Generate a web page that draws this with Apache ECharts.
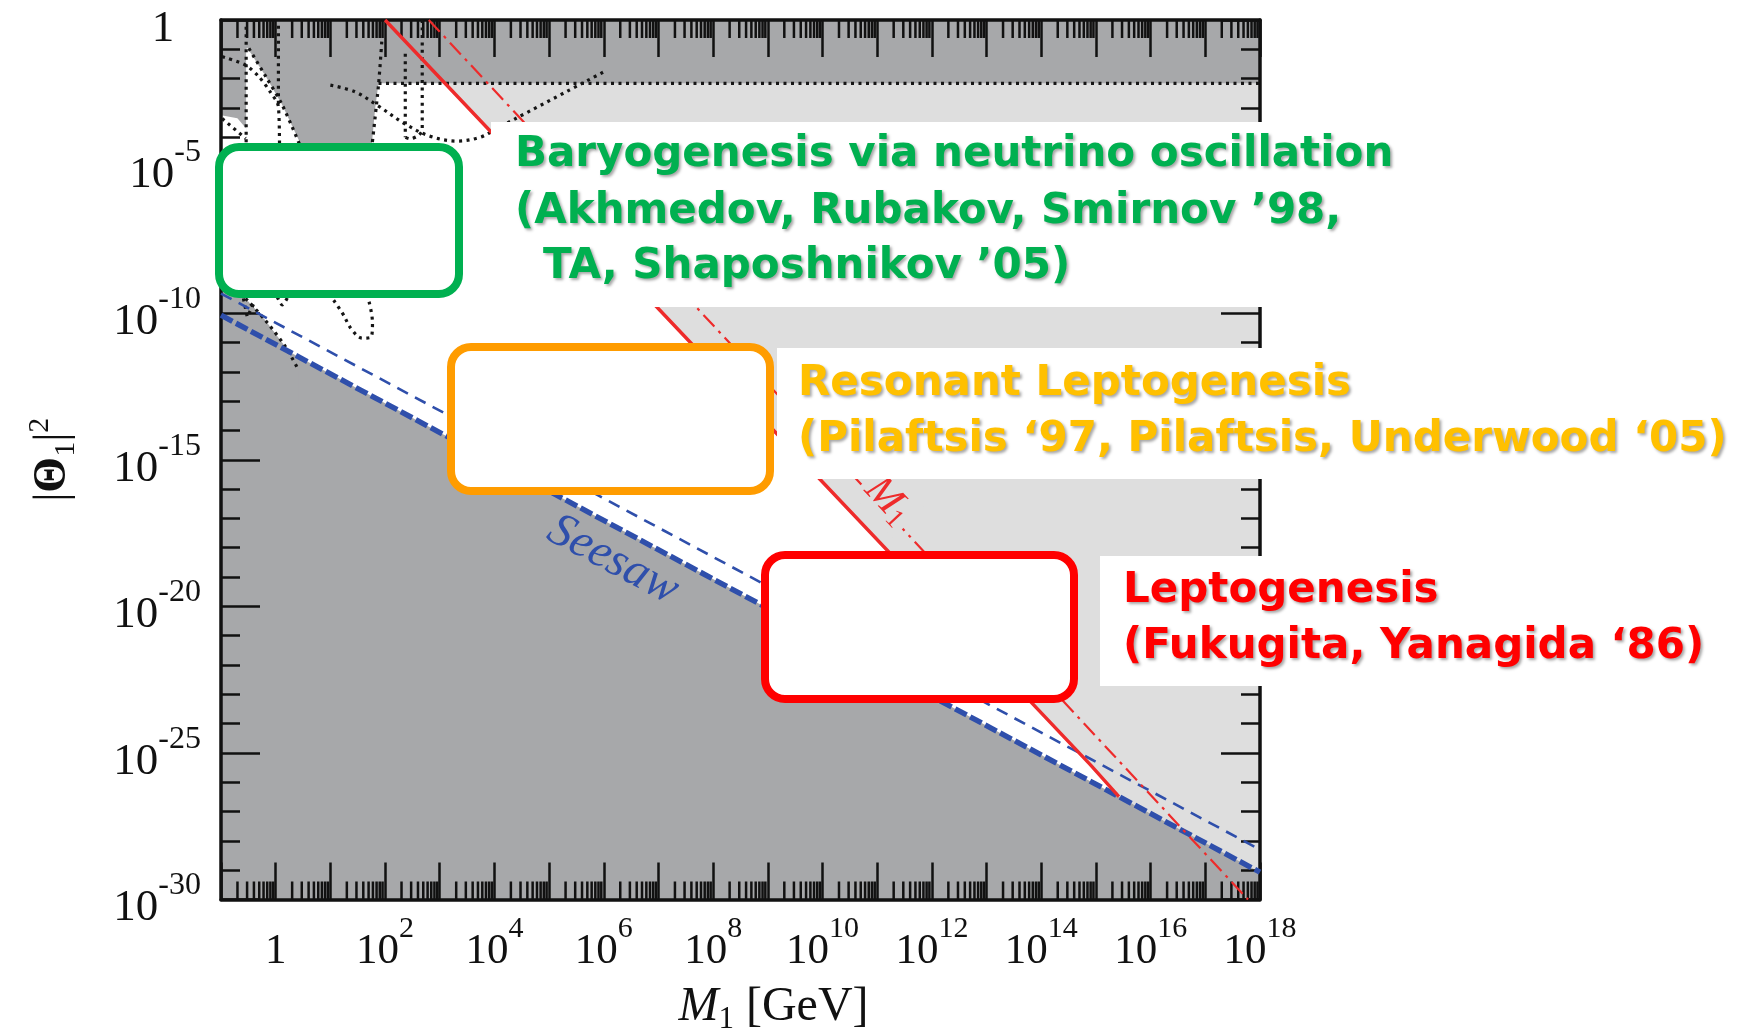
<!DOCTYPE html>
<html>
<head>
<meta charset="utf-8">
<script src="https://cdn.jsdelivr.net/npm/echarts@6/dist/echarts.min.js"></script>
<style>
  html, body { margin: 0; padding: 0; background: #ffffff; }
  #chart { width: 1756px; height: 1030px; }
</style>
</head>
<body>
<div id="chart"></div>
<script>
// Every value below is a base-10 exponent: x = log10(M1 / GeV), y = log10(|Θ1|^2).
const massRange = [-1, 18];
const mixingRange = [-30, 0];
const massLabelPowers = [0, 2, 4, 6, 8, 10, 12, 14, 16, 18];
const mixingLabelPowers = [0, -5, -10, -15, -20, -25, -30];

// Seesaw lines (lower: solar scale, upper: atmospheric scale)
const seesawSolM = [-1, 18];
const seesawSolTheta = [-10.07, -29.07];
const seesawAtmM = [-1, 18];
const seesawAtmTheta = [-9.33, -28.3];

// Leptogenesis boundary (solid red) and the dash-dot line
const leptoM = [2.0, 6.0, 10.0, 14.9, 15.42];
const leptoTheta = [0, -7.88, -15.76, -25.41, -26.49];
const dashDotM = [2.8, 17.78];
const dashDotTheta = [0, -30];

// Upper limit on the mixing
const upperLimitM = [1.88, 18];
const upperLimitTheta = [-2.16, -2.16];

// Low-mass excluded regions (dark gray) and allowed wedges (white)
const topBandM = [-1, 18, 18, -1];
const topBandTheta = [0, 0, -2.16, -2.16];
const lowMassM = [-1, 1.9, 1.88, 1.82, 1.76, 1.72, -1];
const lowMassTheta = [-1.9, -1.9, -2.16, -3.0, -4.2, -5.5, -5.5];
const wedgeM = [-0.52, -0.18, 0.12, 0.45, 0.6, -0.54, -0.54];
const wedgeTheta = [-0.95, -1.93, -2.9, -4.2, -5.5, -5.5, -1.0];
const cornerM = [-1, -0.7, -0.54, -0.54, -1];
const cornerTheta = [-3.25, -3.35, -3.7, -5.5, -5.5];
const bbnM = [-1, -0.55, -0.55, -0.19, 0.18, 0.42, 0.42, -1];
const bbnTheta = [-8.5, -8.5, -9.5, -10.24, -11.15, -11.95, -13, -13];

// Dotted experimental contours
const dotA = { m: [-0.54, -0.54], t: [-0.23, -4.3] };
const dotB = { m: [-0.49, -0.18, 0.12, 0.45], t: [-0.97, -1.93, -2.9, -4.3] };
const dotC = { m: [-0.98, -0.55, -0.31, -0.10, 0.05, 0.07], t: [-1.25, -1.54, -1.93, -2.45, -2.96, -4.3] };
const dotD = { m: [0.05, 0.05], t: [-0.2, -2.9] };
const dotE = { m: [1.94, 1.88, 1.76], t: [-0.74, -2.22, -4.3] };
const dotF = { m: [2.37, 2.37], t: [-1.15, -4.0] };
const dotH = { m: [2.68, 2.68, 2.6, 2.45, 2.37], t: [0, -3.75, -3.95, -4.05, -4.0] };
const dotG = { m: [1.0, 1.45, 1.85, 2.37, 2.83, 3.32, 3.74, 4.0, 4.35, 6.0], t: [-2.22, -2.45, -2.9, -3.55, -3.97, -4.13, -4.0, -3.75, -3.4, -1.77] };
const dotCorner = { m: [-0.98, -0.55], t: [-3.36, -4.04] };
const dotBBN = { m: [-0.55, -0.19, 0.18, 0.42], t: [-9.5, -10.24, -11.15, -11.95] };
const dotV = { m: [-0.59, -0.52, -0.37], t: [-9.5, -10.13, -9.56] };
const dotSmall = { m: [0.03, 0.12, 0.22], t: [-9.45, -9.72, -9.45] };
const dotU = { m: [1.06, 1.22, 1.4, 1.59, 1.74, 1.77, 1.70], t: [-9.56, -10.0, -10.58, -10.85, -10.82, -10.34, -9.56] };

// Line labels
const seesawLabelAt = [6.17, -18.43];
const m1LabelAt = [11.2, -16.4];

const DARK = '#a7a8aa';
const LIGHT = '#dedede';
const BLUE = '#2f4fab';
const RED = '#ee2b2b';
const SERIF = '"Liberation Serif", "Times New Roman", serif';
const SANS = '"DejaVu Sans", Verdana, sans-serif';

function pairs(xs, ys) { return xs.map((x, i) => [x, ys[i]]); }

function areaSeries(xs, ys, color, z) {
  return {
    type: 'custom', z: z, silent: true, animation: false, clip: true,
    data: pairs(xs, ys),
    renderItem: function (params, api) {
      if (params.dataIndex !== 0) return null;
      const pts = xs.map((x, i) => api.coord([x, ys[i]]));
      return { type: 'polygon', shape: { points: pts }, style: { fill: color } };
    }
  };
}

function lineSeries(xs, ys, lineStyle, z, smooth) {
  return {
    type: 'line', z: z, silent: true, animation: false, clip: true,
    data: pairs(xs, ys), symbol: 'none', showSymbol: false,
    smooth: smooth || false, lineStyle: lineStyle
  };
}

const dottedStyle = { color: '#151515', width: 3.2, type: [3, 4.5], cap: 'butt' };
function dotted(d, smooth) { return lineSeries(d.m, d.t, dottedStyle, 7, smooth); }

// log-spaced minor ticks (2..9 within every decade)
const minorTicks = [];
for (let n = massRange[0]; n < massRange[1]; n++) {
  for (let k = 2; k <= 9; k++) minorTicks.push([n + Math.log10(k), 0]);
}

function tickRich(main, sup) {
  return {
    b: { fontFamily: SERIF, fontSize: main, color: '#111', lineHeight: main + 16, verticalAlign: 'bottom' },
    u: { fontFamily: SERIF, fontSize: sup, color: '#111', lineHeight: sup - 4, verticalAlign: 'top' },
    h: { fontFamily: SERIF, fontSize: sup, color: 'rgba(0,0,0,0)', lineHeight: sup - 4, verticalAlign: 'top' }
  };
}

function xAxisDef(position, showLabels) {
  return {
    type: 'value', position: position, min: massRange[0], max: massRange[1], interval: 1, z: 5,
    axisLine: { show: true, onZero: false, lineStyle: { color: '#111', width: 3.5 } },
    axisTick: { show: true, inside: true, length: 37, lineStyle: { color: '#111', width: 2.5 } },
    splitLine: { show: false },
    axisLabel: {
      show: showLabels, margin: 11, padding: [4, 0, 0, 0], rich: tickRich(43, 30),
      formatter: function (v) {
        if (massLabelPowers.indexOf(v) < 0) return '';
        if (v === 0) return '{b|1}';
        return '{b|10}{u|' + v + '}';
      }
    },
    name: showLabels ? '{i|M}{s|1}{n| [GeV]}' : '',
    nameLocation: 'middle', nameGap: 80,
    nameTextStyle: {
      padding: [0, 0, 0, 66],
      rich: {
        i: { fontFamily: SERIF, fontStyle: 'italic', fontSize: 48, color: '#111', lineHeight: 56 },
        s: { fontFamily: SERIF, fontSize: 31, color: '#111', lineHeight: 28, verticalAlign: 'bottom' },
        n: { fontFamily: SERIF, fontSize: 48, color: '#111', lineHeight: 56 }
      }
    }
  };
}

function yAxisDef(position, step, tickLen, showLine, showLabels) {
  return {
    type: 'value', position: position, min: mixingRange[0], max: mixingRange[1], interval: step, z: 5,
    axisLine: { show: showLine, onZero: false, lineStyle: { color: '#111', width: 3.5 } },
    axisTick: { show: true, inside: true, length: tickLen, lineStyle: { color: '#111', width: 2.5 } },
    splitLine: { show: false },
    axisLabel: {
      show: showLabels, margin: 20, padding: [2, 0, 0, 0], rich: tickRich(45, 32),
      formatter: function (v) {
        if (mixingLabelPowers.indexOf(v) < 0) return '';
        if (v === 0) return '{b|1}{h|-5}';
        return '{b|10}{u|' + v + '}';
      }
    },
    name: showLabels ? '{n||}{t|Θ}{s|1}{n||}{p|2}' : '',
    nameLocation: 'middle', nameGap: 140,
    nameTextStyle: {
      rich: {
        n: { fontFamily: SERIF, fontSize: 46, color: '#111', lineHeight: 56 },
        t: { fontFamily: SERIF, fontSize: 46, fontWeight: 'bold', color: '#111', lineHeight: 56 },
        s: { fontFamily: SERIF, fontSize: 30, color: '#111', lineHeight: 26, verticalAlign: 'bottom' },
        p: { fontFamily: SERIF, fontSize: 30, color: '#111', lineHeight: 24, verticalAlign: 'top' }
      }
    }
  };
}

const series = [
  areaSeries(leptoM.concat([seesawSolM[1], massRange[1]]),
             leptoTheta.concat([seesawSolTheta[1], mixingRange[1]]), LIGHT, 1),
  areaSeries(seesawSolM.concat([massRange[1], massRange[0]]),
             seesawSolTheta.concat([mixingRange[0], mixingRange[0]]), DARK, 2),
  areaSeries(topBandM, topBandTheta, DARK, 2),
  areaSeries(lowMassM, lowMassTheta, DARK, 2),
  areaSeries(bbnM, bbnTheta, DARK, 2),
  areaSeries(wedgeM, wedgeTheta, '#ffffff', 3),
  areaSeries(cornerM, cornerTheta, '#ffffff', 3),
  {
    type: 'custom', z: 6, silent: true, animation: false, data: minorTicks,
    renderItem: function (params, api) {
      const u = api.value(0);
      const b = api.coord([u, mixingRange[0]]);
      const t = api.coord([u, mixingRange[1]]);
      const st = { stroke: '#111', lineWidth: 2.5 };
      return { type: 'group', children: [
        { type: 'line', shape: { x1: b[0], y1: b[1], x2: b[0], y2: b[1] - 18 }, style: st },
        { type: 'line', shape: { x1: t[0], y1: t[1], x2: t[0], y2: t[1] + 18 }, style: st }
      ] };
    }
  },
  dotted(dotA), dotted(dotB, 0.3), dotted(dotC, 0.3), dotted(dotD), dotted(dotE, 0.3),
  dotted(dotF), dotted(dotH, 0.3), dotted(dotG, 0.35), dotted(dotCorner),
  dotted(dotBBN, 0.3), dotted(dotV), dotted(dotSmall, 0.3), dotted(dotU, 0.4),
  lineSeries(upperLimitM, upperLimitTheta, dottedStyle, 7),
  lineSeries(seesawAtmM, seesawAtmTheta, { color: BLUE, width: 2.6, type: [12, 8] }, 8),
  lineSeries(seesawSolM, seesawSolTheta, { color: BLUE, width: 5.4, type: [13, 4] }, 8),
  lineSeries(dashDotM, dashDotTheta, { color: RED, width: 2.2, type: [16, 6, 3, 6] }, 8),
  lineSeries(leptoM, leptoTheta, { color: RED, width: 3.4 }, 8),
  {
    type: 'custom', z: 9, silent: true, animation: false, data: [seesawLabelAt],
    renderItem: function (params, api) {
      const p = api.coord([api.value(0), api.value(1)]);
      return { type: 'text', x: p[0], y: p[1], rotation: -28 * Math.PI / 180,
        style: { text: 'Seesaw', fontFamily: SERIF, fontStyle: 'italic', fontSize: 48, fill: BLUE, align: 'center', verticalAlign: 'middle' } };
    }
  },
  {
    type: 'custom', z: 9, silent: true, animation: false, data: [m1LabelAt],
    renderItem: function (params, api) {
      const p = api.coord([api.value(0), api.value(1)]);
      return { type: 'text', x: p[0], y: p[1], rotation: -47 * Math.PI / 180,
        style: {
          text: '{m|M}{s|1}', align: 'center', verticalAlign: 'middle',
          backgroundColor: LIGHT, padding: [0, 6, 0, 6],
          rich: {
            m: { fontFamily: SERIF, fontStyle: 'italic', fontSize: 42, fill: RED, lineHeight: 44 },
            s: { fontFamily: SERIF, fontSize: 27, fill: RED, lineHeight: 22, verticalAlign: 'bottom' }
          }
        } };
    }
  }
];

// Annotation overlays: white backdrops, framed boxes and the captions
function backdrop(x, y, w, h) {
  return { type: 'rect', z: 50, silent: true, shape: { x: x, y: y, width: w, height: h }, style: { fill: '#ffffff' } };
}
function frame(x, y, w, h, color) {
  return { type: 'rect', z: 60, silent: true, shape: { x: x, y: y, width: w, height: h, r: 20 },
    style: { fill: '#ffffff', stroke: color, lineWidth: 8 } };
}
function caption(x, y, text, color) {
  return { type: 'text', z: 70, silent: true, x: x, y: y,
    style: { text: text, font: 'bold 42px ' + SANS, fill: color, align: 'left', verticalAlign: 'middle',
      textShadowColor: 'rgba(0,0,0,0.35)', textShadowBlur: 3, textShadowOffsetX: 2, textShadowOffsetY: 2,
      shadowColor: 'rgba(0,0,0,0.35)', shadowBlur: 3, shadowOffsetX: 2, shadowOffsetY: 2 } };
}

const GREEN = '#00b050', GOLD = '#ffc000', ORANGE = '#ff9c00', PURE_RED = '#ff0000';

const graphics = [
  backdrop(491, 122, 790, 185),
  backdrop(777, 348, 504, 131),
  backdrop(1100, 556, 181, 130),
  frame(219, 147, 240, 147, GREEN),
  frame(451, 347, 319, 144, ORANGE),
  frame(765, 555, 309, 144, PURE_RED),
  caption(515, 155, 'Baryogenesis via neutrino oscillation', GREEN),
  caption(515, 212, '(Akhmedov, Rubakov, Smirnov ’98,', GREEN),
  caption(543, 267, 'TA, Shaposhnikov ’05)', GREEN),
  caption(798, 384, 'Resonant Leptogenesis', GOLD),
  caption(798, 440, '(Pilaftsis ‘97, Pilaftsis, Underwood ‘05)', GOLD),
  caption(1123, 591, 'Leptogenesis', PURE_RED),
  caption(1123, 647, '(Fukugita, Yanagida ‘86)', PURE_RED)
];

const chart = echarts.init(document.getElementById('chart'), null, { renderer: 'canvas' });
chart.setOption({
  animation: false,
  backgroundColor: '#ffffff',
  grid: { left: 221, top: 20, width: 1039, height: 879.5, containLabel: false, outerBoundsMode: 'none' },
  xAxis: [xAxisDef('bottom', true), xAxisDef('top', false)],
  yAxis: [
    yAxisDef('left', 1, 19, true, true),
    yAxisDef('left', 5, 39, false, false),
    yAxisDef('right', 1, 19, true, false),
    yAxisDef('right', 5, 39, false, false)
  ],
  series: series,
  graphic: { elements: graphics }
});
</script>
</body>
</html>
